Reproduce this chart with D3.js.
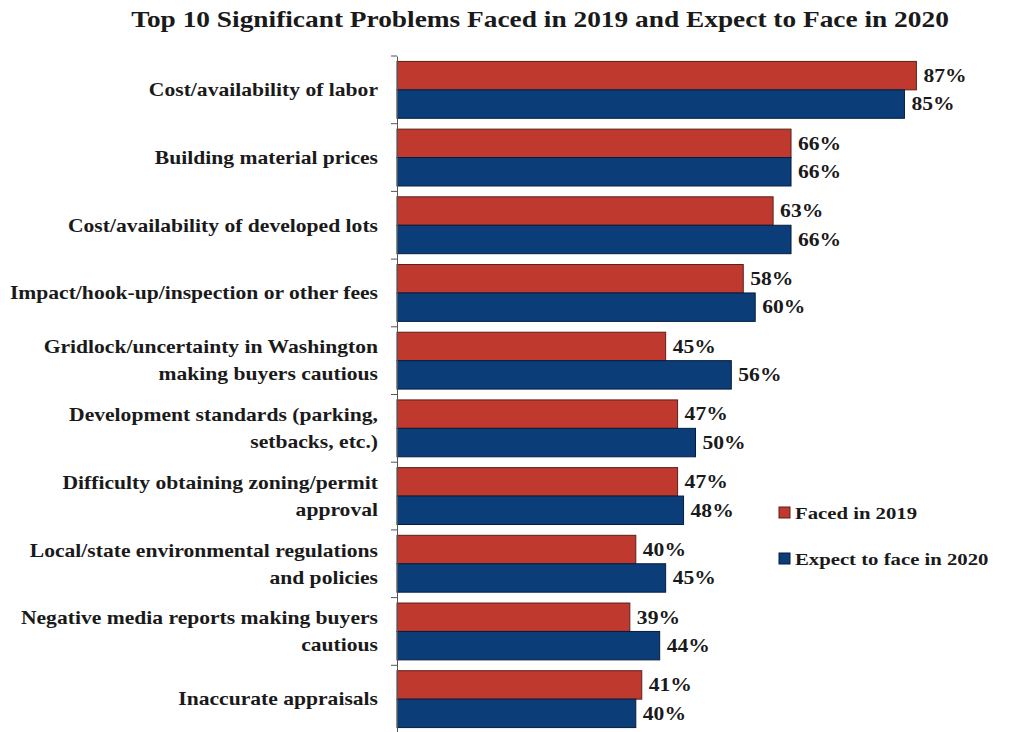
<!DOCTYPE html>
<html>
<head>
<meta charset="utf-8">
<script src="https://cdn.jsdelivr.net/npm/d3@7"></script>
<style>
    body { margin: 0; background: #fff; }
    text { font-family: "Liberation Serif", "Times New Roman", serif; font-weight: bold; fill: #1a1a1a; }
</style>
</head>
<body>
<svg id="chart"></svg>
<script>
let categories = [
    ["Cost/availability of labor"],
    ["Building material prices"],
    ["Cost/availability of developed lots"],
    ["Impact/hook-up/inspection or other fees"],
    ["Gridlock/uncertainty in Washington", "making buyers cautious"],
    ["Development standards (parking,", "setbacks, etc.)"],
    ["Difficulty obtaining zoning/permit", "approval"],
    ["Local/state environmental regulations", "and policies"],
    ["Negative media reports making buyers", "cautious"],
    ["Inaccurate appraisals"]
];
let seriesNames = ["Faced in 2019", "Expect to face in 2020"];
let faced2019 = [87, 66, 63, 58, 45, 47, 47, 40, 39, 41];
let expect2020 = [85, 66, 66, 60, 56, 50, 48, 45, 44, 40];
let colors = ["#c0392f", "#0b3d79"];
let strokes = ["#5a1f1a", "#061d3c"];

let w = 1010, h = 732;
let stretch = 1.2; // the source lettering is wide
let svg = d3.select("#chart").attr("width", w).attr("height", h);

let xScale = d3.scaleLinear().domain([0, 100]).range([397, 994]);
let yScale = d3.scaleBand().domain(d3.range(categories.length)).range([56, 733]);
let ySub = d3.scaleBand().domain([0, 1])
    .range([yScale.bandwidth() * 0.08, yScale.bandwidth() * 0.92]);

function wideText(parent, x, y, size, sx) {
    return parent.append("g")
        .attr("transform", "translate(" + x + "," + y + ") scale(" + sx + ",1)")
        .append("text")
        .style("font-size", size + "px");
}

wideText(svg, 540, 27, 23, 1.19)
    .attr("text-anchor", "middle")
    .text("Top 10 Significant Problems Faced in 2019 and Expect to Face in 2020");

let rows = categories.map(function (c, i) {
    return {no: i, label: c, values: [faced2019[i], expect2020[i]]};
});

let groups = svg.selectAll("g.group")
    .data(rows)
    .enter()
    .append("g")
    .attr("class", "group")
    .attr("transform", function (d) { return "translate(0," + yScale(d.no) + ")"; });

groups.selectAll("rect")
    .data(function (d) { return d.values; })
    .enter()
    .append("rect")
    .attr("x", xScale(0))
    .attr("y", function (d, i) { return ySub(i); })
    .attr("width", function (d) { return xScale(d) - xScale(0); })
    .attr("height", ySub.bandwidth())
    .attr("fill", function (d, i) { return colors[i]; })
    .attr("stroke", function (d, i) { return strokes[i]; })
    .attr("stroke-width", 1);

groups.each(function (d) {
    let g = d3.select(this);
    d.values.forEach(function (v, i) {
        wideText(g, xScale(v) + 7, ySub(i) + ySub.bandwidth() / 2, 18, stretch)
            .attr("dy", "0.35em")
            .text(v + "%");
    });

    // category labels, one or two lines
    let n = d.label.length;
    d.label.forEach(function (line, k) {
        wideText(g, 378, yScale.bandwidth() / 2 + (k - (n - 1) / 2) * 27, 18, stretch)
            .attr("text-anchor", "end")
            .attr("dy", "0.35em")
            .text(line);
    });
});

// axis line with ticks between categories
let yAxis = d3.axisLeft(yScale).tickValues([]).tickSizeOuter(0);
svg.append("g")
    .attr("transform", "translate(" + xScale(0) + ",0)")
    .call(yAxis)
    .select(".domain")
    .attr("stroke", "#555");
svg.selectAll("line.tick")
    .data(d3.range(categories.length + 1))
    .enter()
    .append("line")
    .attr("class", "tick")
    .attr("x1", xScale(0) - 6)
    .attr("x2", xScale(0))
    .attr("y1", function (d) { return d < categories.length ? yScale(d) : yScale.range()[1]; })
    .attr("y2", function (d) { return d < categories.length ? yScale(d) : yScale.range()[1]; })
    .attr("stroke", "#555");

// legend
let legend = svg.selectAll("g.legend")
    .data(seriesNames)
    .enter()
    .append("g")
    .attr("class", "legend")
    .attr("transform", function (d, i) { return "translate(779," + (507 + i * 46) + ")"; });
legend.append("rect")
    .attr("width", 11)
    .attr("height", 11)
    .attr("fill", function (d, i) { return colors[i]; })
    .attr("stroke", function (d, i) { return strokes[i]; });
legend.each(function (d) {
    wideText(d3.select(this), 16, 6, 17, 1.22)
        .attr("dy", "0.35em")
        .text(d);
});
</script>
</body>
</html>
